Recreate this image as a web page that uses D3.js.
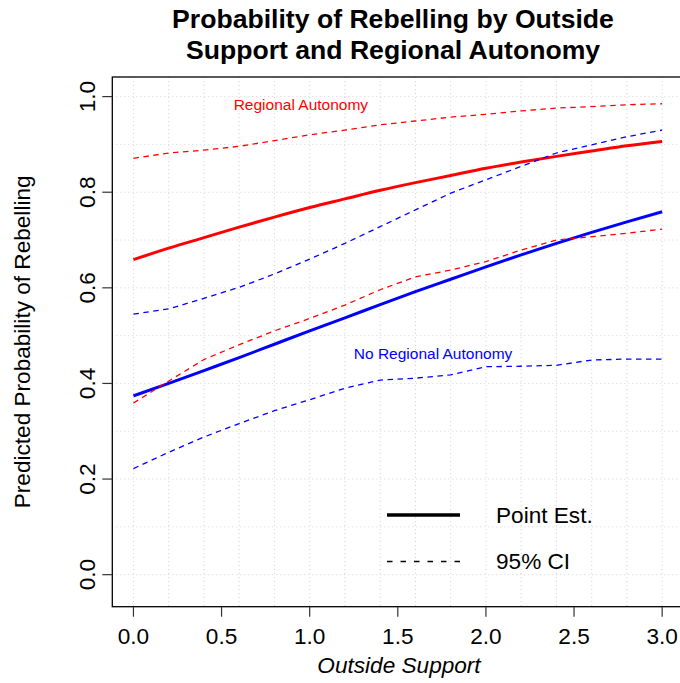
<!DOCTYPE html>
<html lang="en">
<head>
    <meta charset="UTF-8">
    <title>Probability of Rebelling by Outside Support and Regional Autonomy</title>
    <script src="https://d3js.org/d3.v7.min.js"></script>
    <style>
        body {
            margin: 0;
            background: #ffffff;
        }

        svg {
            display: block;
            font-family: 'Liberation Sans', Arial, Helvetica, sans-serif;
        }
    </style>
</head>
<body>

    <svg id="chart" width="680" height="683"></svg>

    <script>
        // Values (x = outside support)
        const outsideSupport = [0.0, 0.2, 0.4, 0.6, 0.8, 1.0, 1.2, 1.4, 1.6, 1.8, 2.0, 2.2, 2.4, 2.6, 2.8, 3.0];

        const pointRegional   = [0.659, 0.683, 0.705, 0.727, 0.748, 0.768, 0.786, 0.804, 0.820, 0.835, 0.850, 0.863, 0.875, 0.886, 0.897, 0.906];
        const pointNoRegional = [0.374, 0.400, 0.427, 0.454, 0.482, 0.510, 0.537, 0.565, 0.592, 0.618, 0.644, 0.669, 0.693, 0.716, 0.738, 0.759];

        const upperRegional   = [0.871, 0.882, 0.888, 0.896, 0.908, 0.920, 0.930, 0.941, 0.949, 0.957, 0.963, 0.970, 0.976, 0.979, 0.983, 0.985];
        const lowerRegional   = [0.359, 0.405, 0.450, 0.481, 0.510, 0.536, 0.564, 0.596, 0.623, 0.637, 0.655, 0.679, 0.700, 0.707, 0.714, 0.723];
        const upperNoRegional = [0.545, 0.556, 0.578, 0.601, 0.629, 0.660, 0.693, 0.728, 0.763, 0.798, 0.826, 0.854, 0.882, 0.899, 0.916, 0.930];
        const lowerNoRegional = [0.222, 0.256, 0.288, 0.316, 0.343, 0.366, 0.390, 0.407, 0.411, 0.418, 0.435, 0.436, 0.438, 0.449, 0.451, 0.451];

        // Ticks, grid and labels
        const xTicks = [0, 0.5, 1.0, 1.5, 2.0, 2.5, 3.0];
        const yTicks = [0, 0.2, 0.4, 0.6, 0.8, 1.0];
        const xGrid = [0, 0.2, 0.4, 0.6, 0.8, 1.0, 1.2, 1.4, 1.6, 1.8, 2.0, 2.2, 2.4, 2.6, 2.8, 3.0];
        const yGrid = [0, 0.1, 0.2, 0.3, 0.4, 0.5, 0.6, 0.7, 0.8, 0.9, 1.0];
        const titleLines = ["Probability of Rebelling by Outside", "Support and Regional Autonomy"];
        const legendLabels = ["Point Est.", "95% CI"];

        const svg = d3.select("#chart");

        // Plot region (right edge runs past the picture, as in the original)
        const plotLeft = 112.3, plotRight = 683.3, plotTop = 77, plotBottom = 606.7;

        const x = d3.scaleLinear()
            .domain([-0.12, 3.12])
            .range([plotLeft, plotRight]);

        const y = d3.scaleLinear()
            .domain([-0.067, 1.041])
            .range([plotBottom, plotTop]);

        // Dotted light gray grid
        svg.append("g").selectAll("line")
            .data(xGrid)
            .enter().append("line")
            .attr("x1", d => x(d)).attr("x2", d => x(d))
            .attr("y1", plotTop).attr("y2", plotBottom)
            .attr("stroke", "#d3d3d3")
            .attr("stroke-width", 1)
            .attr("stroke-dasharray", "1,3");

        svg.append("g").selectAll("line")
            .data(yGrid)
            .enter().append("line")
            .attr("x1", plotLeft).attr("x2", plotRight)
            .attr("y1", d => y(d)).attr("y2", d => y(d))
            .attr("stroke", "#d3d3d3")
            .attr("stroke-width", 1)
            .attr("stroke-dasharray", "1,3");

        // Lines
        const smooth = d3.line()
            .x((d, i) => x(outsideSupport[i]))
            .y(d => y(d))
            .curve(d3.curveMonotoneX);

        const jagged = d3.line()
            .x((d, i) => x(outsideSupport[i]))
            .y(d => y(d));

        const series = [
            { values: pointRegional,   color: "#ff0000", dashed: false },
            { values: pointNoRegional, color: "#0000ff", dashed: false },
            { values: upperRegional,   color: "#ff0000", dashed: true },
            { values: lowerRegional,   color: "#ff0000", dashed: true },
            { values: upperNoRegional, color: "#0000ff", dashed: true },
            { values: lowerNoRegional, color: "#0000ff", dashed: true }
        ];

        svg.append("g").selectAll("path")
            .data(series)
            .enter().append("path")
            .attr("d", d => d.dashed ? jagged(d.values) : smooth(d.values))
            .attr("fill", "none")
            .attr("stroke", d => d.color)
            .attr("stroke-width", d => d.dashed ? 1.3 : 3)
            .attr("stroke-dasharray", d => d.dashed ? "5.5,4.5" : null);

        // Box
        svg.append("rect")
            .attr("x", plotLeft).attr("y", plotTop)
            .attr("width", plotRight - plotLeft).attr("height", plotBottom - plotTop)
            .attr("fill", "none")
            .attr("stroke", "#000")
            .attr("stroke-width", 1.3);

        // X axis ticks and labels
        svg.append("g").selectAll("line")
            .data(xTicks)
            .enter().append("line")
            .attr("x1", d => x(d)).attr("x2", d => x(d))
            .attr("y1", plotBottom).attr("y2", plotBottom + 10)
            .attr("stroke", "#333")
            .attr("stroke-width", 1.2);

        svg.append("g").selectAll("text")
            .data(xTicks)
            .enter().append("text")
            .attr("x", d => x(d))
            .attr("y", 644)
            .attr("text-anchor", "middle")
            .attr("font-size", 22.6)
            .text(d => d.toFixed(1));

        // Y axis ticks and labels (rotated, as in R)
        svg.append("g").selectAll("line")
            .data(yTicks)
            .enter().append("line")
            .attr("x1", plotLeft - 10).attr("x2", plotLeft)
            .attr("y1", d => y(d)).attr("y2", d => y(d))
            .attr("stroke", "#333")
            .attr("stroke-width", 1.2);

        svg.append("g").selectAll("text")
            .data(yTicks)
            .enter().append("text")
            .attr("transform", d => "translate(95," + y(d) + ") rotate(-90)")
            .attr("text-anchor", "middle")
            .attr("font-size", 22.6)
            .text(d => d.toFixed(1));

        // Axis titles
        svg.append("text")
            .attr("x", 399)
            .attr("y", 673)
            .attr("text-anchor", "middle")
            .attr("font-size", 22.6)
            .attr("font-style", "italic")
            .text("Outside Support");

        svg.append("text")
            .attr("transform", "translate(30," + (plotTop + plotBottom) / 2 + ") rotate(-90)")
            .attr("text-anchor", "middle")
            .attr("font-size", 22.6)
            .text("Predicted Probability of Rebelling");

        // Title, two lines
        svg.append("g").selectAll("text")
            .data(titleLines)
            .enter().append("text")
            .attr("x", 393)
            .attr("y", (d, i) => 27.5 + i * 31.7)
            .attr("text-anchor", "middle")
            .attr("font-size", 26.6)
            .attr("font-weight", "bold")
            .text(d => d);

        // Group labels inside the plot
        svg.append("text")
            .attr("x", x(0.95))
            .attr("y", y(0.983))
            .attr("dy", "0.35em")
            .attr("text-anchor", "middle")
            .attr("font-size", 15.5)
            .attr("fill", "#ff0000")
            .text("Regional Autonomy");

        svg.append("text")
            .attr("x", x(1.70))
            .attr("y", y(0.462))
            .attr("dy", "0.35em")
            .attr("text-anchor", "middle")
            .attr("font-size", 15.5)
            .attr("fill", "#0000ff")
            .text("No Regional Autonomy");

        // Legend
        const legend = svg.append("g").selectAll("g")
            .data(legendLabels)
            .enter().append("g")
            .attr("transform", (d, i) => "translate(387," + (515 + i * 46.5) + ")");

        legend.append("line")
            .attr("x1", 0).attr("x2", 73)
            .attr("y1", 0).attr("y2", 0)
            .attr("stroke", "#000")
            .attr("stroke-width", (d, i) => i === 0 ? 3.3 : 1.7)
            .attr("stroke-dasharray", (d, i) => i === 0 ? null : "5.5,8");

        legend.append("text")
            .attr("x", 109)
            .attr("y", 0)
            .attr("dy", "0.35em")
            .attr("font-size", 22.6)
            .text(d => d);
    </script>
</body>
</html>
